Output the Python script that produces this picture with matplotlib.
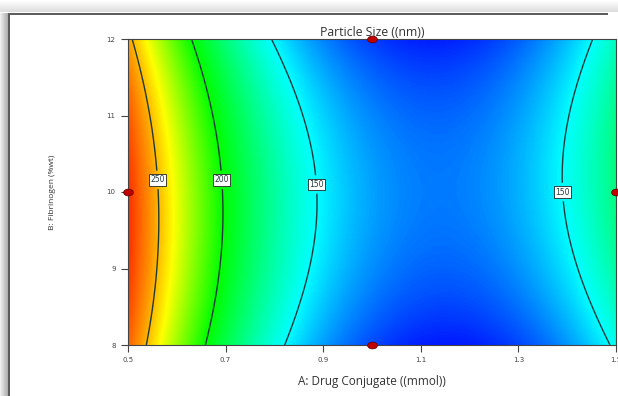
import numpy as np
import matplotlib.pyplot as plt
from matplotlib.colors import LinearSegmentedColormap, Normalize
from matplotlib.patches import Rectangle
from matplotlib.path import Path

# quadratic model for particle size, coded factors a, b in [-1, 1]
b0 = 133.6
bA = -51.5
bB = -1.1
bAB = 5.8
bAA = 92.8
bBB = -17.1

levels = [150, 200, 250]
label_pos = [(0.565, 10.16), (0.696, 10.16), (0.889, 10.1), (1.394, 10.0)]

design_A = [1.0, 1.0, 0.5, 1.5]
design_B = [12, 8, 10, 10]

x_ticks = [0.5, 0.7, 0.9, 1.1, 1.3, 1.5]
y_ticks = [8, 9, 10, 11, 12]

# colour scale: blue -> cyan -> green -> yellow -> orange -> red
c_lo, c_hi = 104, 282
c_stops = [104, 150, 200, 238, 255, 282]
c_cols = ["#0000ff", "#00ffff", "#00ff00", "#ffff00", "#ffa000", "#ff2000"]


def particle_size(A, B):
    a = (A - 1.0) / 0.5
    b = (B - 10.0) / 2.0
    return b0 + bA * a + bB * b + bAB * a * b + bAA * a ** 2 + bBB * b ** 2


A, B = np.meshgrid(np.linspace(0.5, 1.5, 400), np.linspace(8, 12, 300))
Z = particle_size(A, B)

cmap = LinearSegmentedColormap.from_list(
    "de", [((s - c_lo) / (c_hi - c_lo), c) for s, c in zip(c_stops, c_cols)])

fig = plt.figure(figsize=(6.18, 3.96), dpi=100)
fig.patch.set_facecolor("white")

# window frame around the chart
for i in range(9):
    g = 0.93 - 0.035 * i
    fig.add_artist(Rectangle((i / 618, 0), 1 / 618, 1 - 13 / 396,
                             transform=fig.transFigure, color=(g, g, g), lw=0))
for i in range(12):
    g = 1.0 - 0.012 * i
    fig.add_artist(Rectangle((0, 1 - (i + 1) / 396), 1, 1 / 396,
                             transform=fig.transFigure, color=(g, g, g), lw=0))
fig.add_artist(Rectangle((8 / 618, 0), 2 / 618, 1 - 13 / 396,
                         transform=fig.transFigure, color="#5a5a5a", lw=0))
fig.add_artist(Rectangle((8 / 618, 1 - 15 / 396), 1 - 18 / 618, 2 / 396,
                         transform=fig.transFigure, color="#5e5e5e", lw=0))

ax = fig.add_axes([128 / 618, 1 - 345 / 396, 488 / 618, 306 / 396])
ax.imshow(Z, extent=[0.5, 1.5, 8, 12], origin="lower", aspect="auto",
          cmap=cmap, norm=Normalize(c_lo, c_hi), interpolation="bilinear")
cs = ax.contour(A, B, Z, levels=levels, colors="#1f3a3a", linewidths=1.0)
labels = ax.clabel(cs, fmt="%d", fontsize=5.5, inline=True, manual=label_pos,
                   inline_spacing=2)
for t in labels:
    t.set_bbox(dict(boxstyle="square,pad=0.15", fc="white", ec="#222222", lw=0.6))
    t.set_rotation(0)

# design points drawn as slightly wide ellipses
oval = Path(Path.unit_circle().vertices * [1.45, 1.0], Path.unit_circle().codes)
ax.plot(design_A, design_B, ls="none", marker=oval, ms=7, mfc="#c00000",
        mec="#6a0000", mew=0.6, clip_on=False, zorder=5)

ax.set_xlim(0.5, 1.5)
ax.set_ylim(8, 12)
ax.set_xticks(x_ticks)
ax.set_yticks(y_ticks)
ax.set_xticklabels([f"{v:.1f}" for v in x_ticks])
ax.set_yticklabels([str(v) for v in y_ticks])
ax.tick_params(labelsize=5, colors="#444444", length=5, width=0.8, pad=4)
for s in ax.spines.values():
    s.set_color("#444444")
    s.set_linewidth(0.8)

ax.set_title("Particle Size ((nm))", fontsize=8.8, color="#333333", pad=2,
             family="Open Sans")
ax.set_xlabel("A: Drug Conjugate ((mmol))", fontsize=8.5, color="#333333",
              labelpad=8, family="Open Sans")
ax.set_ylabel("B: Fibrinogen (%wt)", fontsize=6, color="#333333",
              labelpad=36, family="Open Sans")

fig.savefig("out.png", dpi=100)
